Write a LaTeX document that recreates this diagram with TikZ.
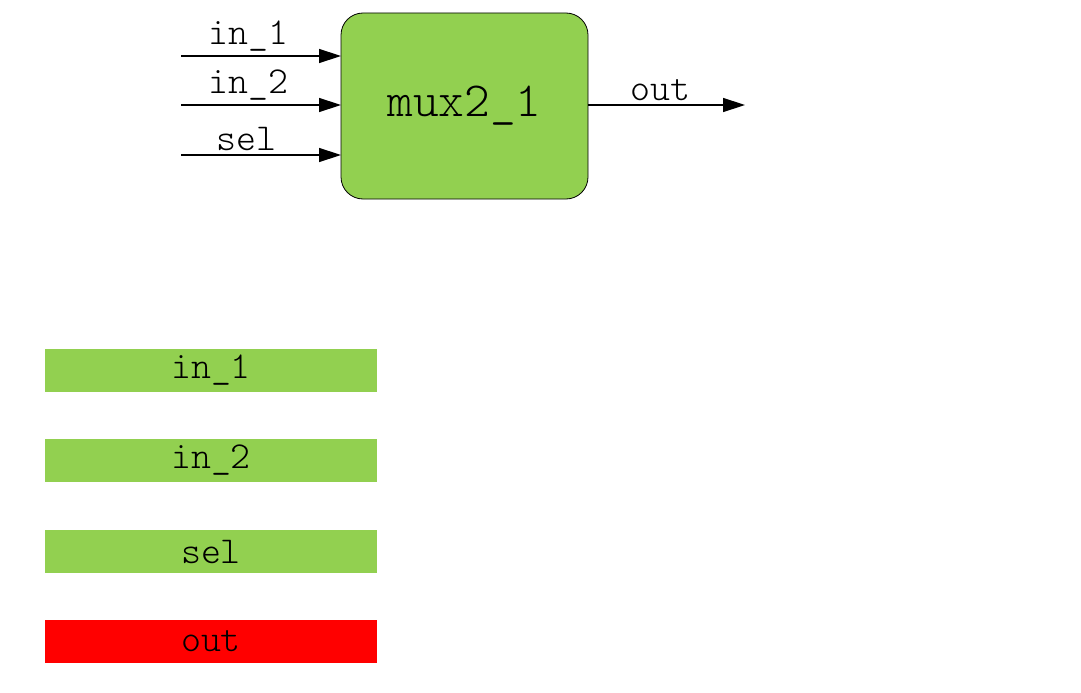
\documentclass[tikz,border=0pt]{standalone}
\usepackage{fontspec}
\newfontfamily\lightmono{Latin Modern Mono Light}
\usetikzlibrary{arrows.meta}
\definecolor{boxgreen}{HTML}{92D050}
\begin{document}
\begin{tikzpicture}[x=1pt,y=-1pt,
  sig/.style={line width=1.4pt,-{Triangle[length=22pt,width=14pt]}},
  lbl/.style={font=\fontsize{38}{44}\selectfont\lightmono,inner sep=0pt},
  bar/.style={minimum width=332pt,minimum height=43pt,inner sep=0pt,font=\fontsize{38}{44}\selectfont\lightmono}]
\useasboundingbox (0,0) rectangle (1081,693);
\node[draw=black,line width=0.8pt,fill=boxgreen,rounded corners=22pt,minimum width=247pt,minimum height=186pt,inner sep=0pt,font=\fontsize{49}{56}\selectfont\lightmono] (mux) at (464.5,106) {mux2\_1};
\coordinate (a1) at (181,56);
\coordinate (a2) at (181,105);
\coordinate (a3) at (181,155);
\coordinate (b1) at (341,56);
\coordinate (b2) at (341,105);
\coordinate (b3) at (341,155);
\coordinate (o) at (745,105);
\draw[sig] (a1) -- node[lbl,above=4pt,pos=0.42] (l1) {in\_1} (b1);
\draw[sig] (a2) -- node[lbl,above=4pt,pos=0.42] (l2) {in\_2} (b2);
\draw[sig] (a3) -- node[lbl,above=4pt,pos=0.41] (l3) {sel} (b3);
\draw[sig] (mux.east |- o) -- node[lbl,above=4pt,pos=0.46] (lo) {out} (o);
\node[bar,fill=boxgreen] (r1) at (211,370.5) {in\_1};
\node[bar,fill=boxgreen] (r2) at (211,460.5) {in\_2};
\node[bar,fill=boxgreen] (r3) at (211,551.5) {sel};
\node[bar,fill=red] (r4) at (211,641.5) {out};
\end{tikzpicture}
\end{document}
